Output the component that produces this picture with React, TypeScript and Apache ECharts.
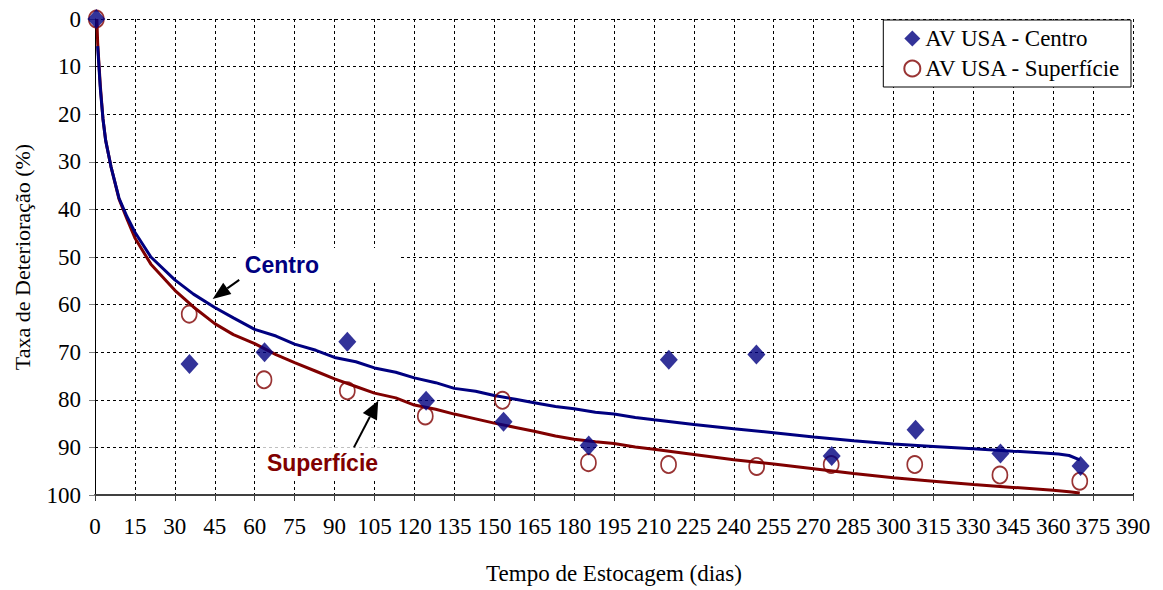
import { useEffect, useRef } from "react";
import * as echarts from "echarts";

// ---- data ----
const centroDays = [0.5, 35.5, 63.7, 94.8, 124.4, 153.5, 185.5, 215.6, 248.5, 276.8, 308.3, 340.2, 370.3];
const centroValues = [0, 72.5, 70, 67.8, 80.2, 84.6, 89.6, 71.6, 70.5, 91.8, 86.3, 91.3, 93.9];

const superficieDays = [0.5, 35.4, 63.5, 94.8, 124.1, 153.1, 185.4, 215.5, 248.6, 276.6, 308, 340, 370];
const superficieValues = [0, 62, 75.8, 78.1, 83.4, 80.1, 93.2, 93.6, 94, 93.6, 93.6, 95.8, 97.1];

const centroCurveDays = [1, 2, 3, 4, 6, 9, 12, 15, 21, 30, 37, 45, 52, 60, 68, 75, 83, 90, 98, 105, 113, 120, 128, 135, 143, 150, 158, 165, 173, 180, 188, 195, 203, 210, 225, 240, 255, 270, 285, 300, 315, 330, 345, 355, 362, 366, 370];
const centroCurveValues = [5.7, 14.7, 21, 25.5, 31, 37.6, 41.5, 44.8, 50, 54.8, 57.8, 60.6, 62.8, 65.2, 66.6, 68.3, 69.6, 71.1, 72.0, 73.3, 74.2, 75.4, 76.4, 77.6, 78.2, 79.1, 79.9, 80.6, 81.4, 81.9, 82.6, 83.0, 83.7, 84.2, 85.2, 86.1, 86.9, 87.8, 88.6, 89.3, 89.8, 90.3, 90.8, 91.1, 91.4, 91.7, 92.6];

const superficieCurveDays = [0.7, 1, 2, 3, 4, 6, 9, 12, 15, 21, 30, 37, 45, 52, 60, 68, 75, 83, 90, 98, 105, 113, 120, 128, 135, 143, 150, 158, 165, 173, 180, 188, 195, 203, 210, 225, 240, 255, 270, 285, 300, 315, 330, 345, 360, 366, 370];
const superficieCurveValues = [0, 5, 14, 21, 25.5, 31, 37.8, 42, 46, 51.5, 57, 60.5, 64, 66.3, 68.2, 70.5, 72.2, 74.0, 75.6, 77.2, 78.6, 79.6, 81.1, 82.0, 83.0, 84.0, 84.9, 85.8, 86.6, 87.6, 88.3, 88.8, 89.2, 89.9, 90.4, 91.5, 92.6, 93.5, 94.5, 95.5, 96.4, 97.1, 97.8, 98.4, 99.0, 99.3, 99.6];

const xMin = 0;
const xMax = 390;
const xInterval = 15;
const yMin = 0;
const yMax = 100;
const yInterval = 10;

const NAVY = "#000080";
const DARKRED = "#800000";
const SERIF = "Liberation Serif";
const SANS = "Liberation Sans";

const zip = (xs: number[], ys: number[]) => xs.map((x, i) => [x, ys[i]]);

export default function App() {
  const ref = useRef<HTMLDivElement>(null);
  useEffect(() => {
    const chart = echarts.init(ref.current!, null, { renderer: "svg" });
    const dashed = { type: [3, 3] as any, color: "#000", width: 1 };
    chart.setOption({
      animation: false,
      backgroundColor: "#fff",
      grid: { left: 95, right: 30, top: 19, bottom: 90, containLabel: false },
      legend: {
        orient: "vertical",
        right: 32,
        top: 20,
        backgroundColor: "#fff",
        borderColor: "#000",
        borderWidth: 1,
        borderRadius: 0,
        padding: [7, 10, 7, 20],
        itemGap: 7,
        itemWidth: 16,
        itemHeight: 16,
        textStyle: { fontFamily: SERIF, fontSize: 23, color: "#000" },
        data: [
          { name: "AV USA - Centro", icon: "diamond" },
          { name: "AV USA - Superfície", icon: "circle" },
        ],
      },
      xAxis: {
        type: "value",
        min: xMin,
        max: xMax,
        interval: xInterval,
        name: "Tempo de Estocagem (dias)",
        nameLocation: "middle",
        nameGap: 67,
        nameTextStyle: { fontFamily: SERIF, fontSize: 23, color: "#000" },
        axisLine: { show: true, onZero: false, lineStyle: { color: "#404040", width: 2 } },
        axisTick: { show: true, length: 6, lineStyle: { color: "#404040", width: 1 } },
        axisLabel: { fontFamily: SERIF, fontSize: 23, color: "#000", margin: 20 },
        splitLine: { show: true, lineStyle: dashed },
      },
      yAxis: {
        type: "value",
        inverse: true,
        min: yMin,
        max: yMax,
        interval: yInterval,
        name: "Taxa de Deterioração (%)",
        nameLocation: "middle",
        nameGap: 62,
        nameTextStyle: { fontFamily: SERIF, fontSize: 22, color: "#000" },
        axisLine: { show: true, onZero: false, lineStyle: { color: "#000", width: 1 } },
        axisTick: { show: true, length: 6, lineStyle: { color: "#808080", width: 1 } },
        axisLabel: { fontFamily: SERIF, fontSize: 23, color: "#000", margin: 14 },
        splitLine: { show: true, lineStyle: dashed },
      },
      series: [
        {
          name: "Superfície fit",
          type: "line",
          data: zip(superficieCurveDays, superficieCurveValues),
          showSymbol: false,
          lineStyle: { color: DARKRED, width: 3 },
          z: 2,
        },
        {
          name: "Centro fit",
          type: "line",
          data: zip(centroCurveDays, centroCurveValues),
          showSymbol: false,
          lineStyle: { color: NAVY, width: 3 },
          z: 3,
        },
        {
          name: "AV USA - Superfície",
          type: "scatter",
          data: zip(superficieDays, superficieValues),
          symbol: "circle",
          symbolSize: [15, 17],
          itemStyle: { color: "rgba(255,255,255,0)", borderColor: DARKRED, borderWidth: 1.8 },
          z: 4,
        },
        {
          name: "AV USA - Centro",
          type: "scatter",
          data: zip(centroDays, centroValues),
          symbol: "diamond",
          symbolSize: [18, 20],
          itemStyle: { color: NAVY },
          z: 5,
        },
      ],
    });

    const px = (p: number[]) => chart.convertToPixel({ xAxisIndex: 0, yAxisIndex: 0 }, p) as number[];
    const arrow = (from: number[], to: number[], len: number, half: number) => {
      const a = px(from);
      const b = px(to);
      const dx = b[0] - a[0];
      const dy = b[1] - a[1];
      const d = Math.hypot(dx, dy);
      const ux = dx / d;
      const uy = dy / d;
      const bx = b[0] - ux * len;
      const by = b[1] - uy * len;
      return [
        { type: "line", shape: { x1: a[0], y1: a[1], x2: bx, y2: by }, style: { stroke: "#000", lineWidth: 2 }, z: 20 },
        {
          type: "polygon",
          shape: { points: [[b[0], b[1]], [bx - uy * half, by + ux * half], [bx + uy * half, by - ux * half]] },
          style: { fill: "#000" },
          z: 20,
        },
      ];
    };
    const cPos = px([53.3, 51.6]);
    const sPos = px([62.7, 93.2]);
    chart.setOption({
      graphic: [
        {
          type: "text",
          x: cPos[0],
          y: cPos[1],
          z: 15,
          style: {
            text: "Centro",
            fill: NAVY,
            font: `bold 23px ${SANS}`,
            align: "left",
            verticalAlign: "middle",
            backgroundColor: "#fff",
            padding: [5, 80, 5, 8],
          },
        },
        {
          type: "text",
          x: sPos[0],
          y: sPos[1],
          z: 15,
          style: {
            text: "Superfície",
            fill: DARKRED,
            font: `bold 23px ${SANS}`,
            align: "left",
            verticalAlign: "middle",
            backgroundColor: "#fff",
            padding: [4, 5, 4, 5],
          },
        },
        ...arrow([54.2, 54.8], [44.2, 58.8], 18, 7),
        ...arrow([97.3, 90.0], [106.4, 80.2], 18, 8),
      ],
    });
    return () => chart.dispose();
  }, []);
  return <div ref={ref} style={{ position: "absolute", left: 0, top: 0, width: 1163, height: 590 }} />;
}
